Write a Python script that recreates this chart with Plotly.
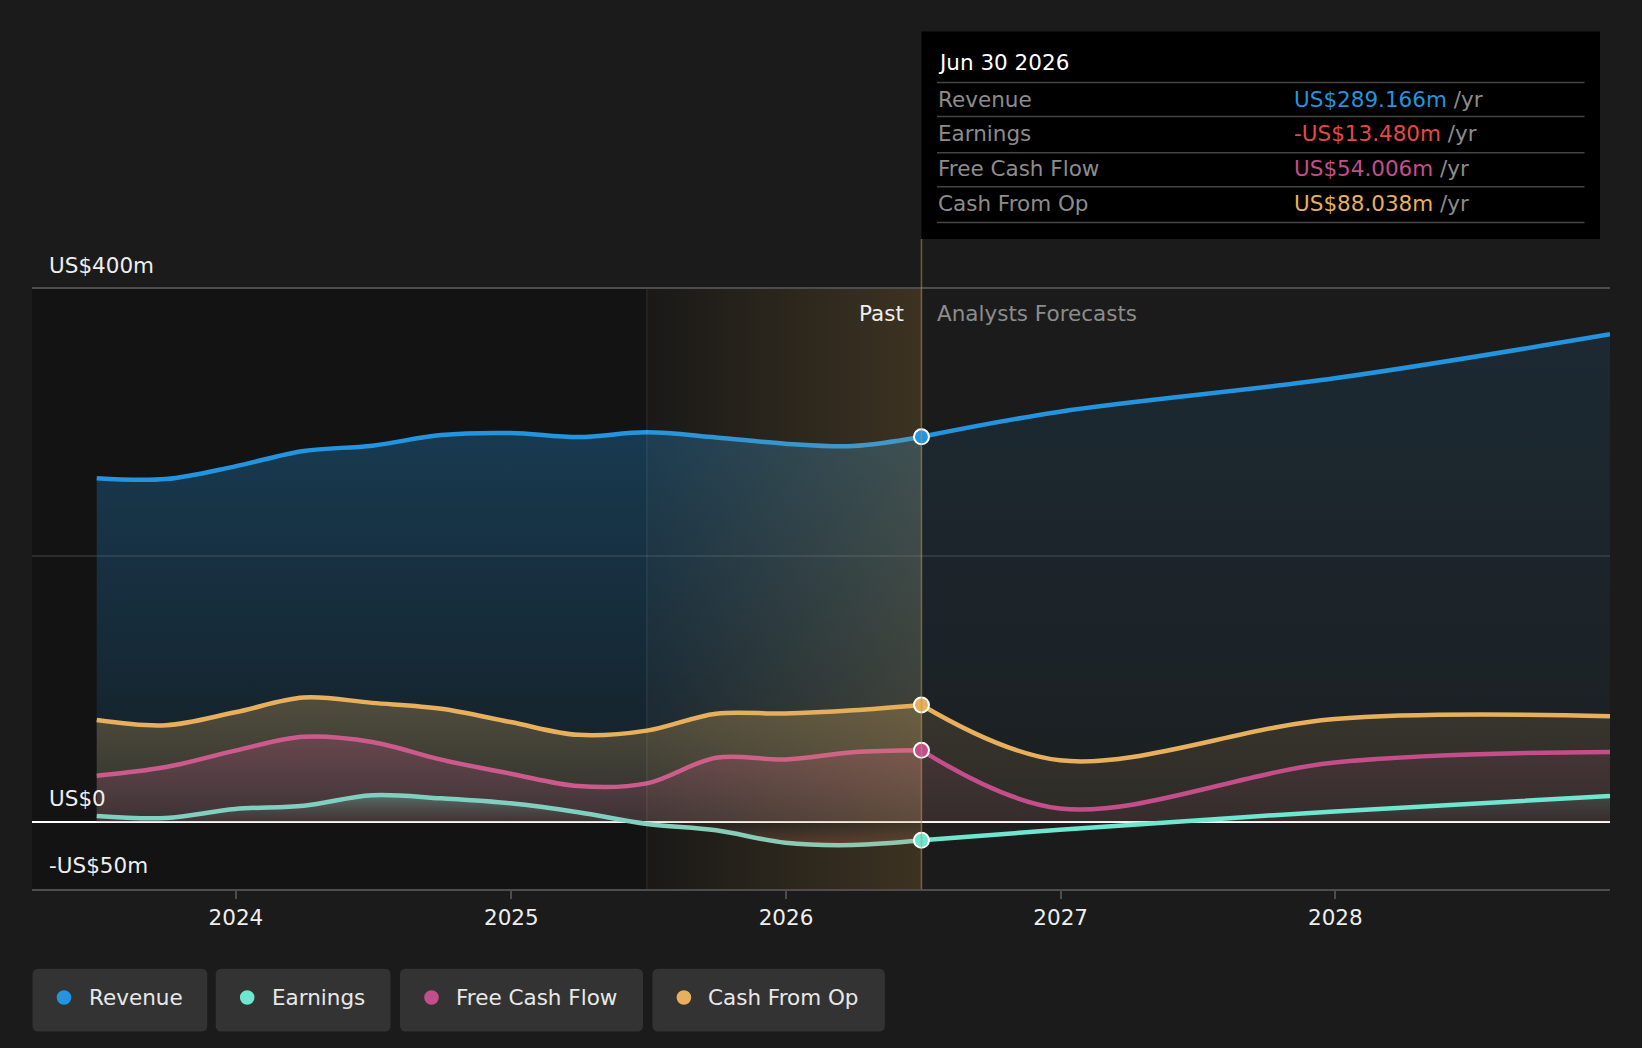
import plotly.graph_objects as go

# ---------------- data ----------------
past_dates = ["2023-06-30", "2023-09-30", "2023-12-31", "2024-03-31", "2024-06-30",
              "2024-09-30", "2024-12-31", "2025-03-31", "2025-06-30", "2025-09-30",
              "2025-12-31", "2026-03-31", "2026-06-30"]
fc_dates = ["2026-06-30", "2026-12-31", "2027-12-31", "2028-12-31"]

rev_past = [258.0, 257.5, 267.0, 278.5, 282.5, 290.5, 292.0, 289.0, 292.5, 288.6, 284.0, 282.2, 289.166]
rev_fc = [289.166, 308.0, 333.0, 366.0]
cfo_past = [76.7, 72.8, 82.5, 93.6, 89.6, 85.2, 75.2, 65.6, 68.8, 81.5, 81.6, 84.0, 88.038]
cfo_fc = [88.038, 46.5, 77.5, 79.5]
fcf_past = [35.0, 41.5, 53.8, 64.2, 60.3, 47.0, 36.5, 27.2, 29.2, 48.5, 47.2, 52.6, 54.006]
fcf_fc = [54.006, 10.4, 44.8, 52.8]
earn_past = [4.8, 3.3, 10.0, 12.5, 20.4, 18.0, 14.3, 7.6, -1.2, -6.0, -15.3, -17.0, -13.48]
earn_fc = [-13.48, -5.5, 8.2, 19.8]

series_names = ["Revenue", "Earnings", "Free Cash Flow", "Cash From Op"]
tooltip_date = "Jun 30 2026"
tooltip_values = ["US$289.166m", "-US$13.480m", "US$54.006m", "US$88.038m"]
y_labels = {400: "US$400m", 0: "US$0", -50: "-US$50m"}
x_range = ["2023-04-05", "2028-12-31"]
y_range = [-50, 400]

# ---------------- style ----------------
C_REV = (35, 148, 223)
C_EARN = (110, 231, 208)
C_FCF = (196, 78, 138)
C_CFO = (232, 176, 92)
C_RED = (230, 72, 72)

def rgba(c, a=1.0):
    return f"rgba({c[0]},{c[1]},{c[2]},{a})"

W, H = 1642, 1048
L, R, T, B = 32, 32, 289, 159
# pixel geometry of the plot area
TX0, TX1 = L, W - R
TY0, TY1 = T, H - B

def px(x):
    return (x - TX0) / (TX1 - TX0)

def py(y):
    return (TY1 - y) / (TY1 - TY0)

FONT = "DejaVu Sans"
FS = 21.5

fig = go.Figure()

def fill_trace(x, y, c, a_lo, a_hi, start=0, stop=None, scale=None):
    if scale is None:
        scale = [[0, rgba(c, a_lo)], [1, rgba(c, a_hi)]]
    return go.Scatter(
        x=x, y=y, mode="lines",
        line=dict(width=0, shape="spline", smoothing=1, color=rgba(c, 0)),
        fill="tozeroy",
        fillgradient=dict(type="vertical", colorscale=scale, start=start,
                          stop=stop if stop is not None else max(y)),
        hoverinfo="skip", showlegend=False)

def line_trace(x, y, c):
    return go.Scatter(
        x=x, y=y, mode="lines",
        line=dict(width=4.5, shape="spline", smoothing=1, color=rgba(c)),
        hoverinfo="skip", showlegend=False)

earn_scale_past = [[0, rgba(C_RED, 0.35)], [0.5, rgba((120, 120, 120), 0.03)], [1, rgba(C_EARN, 0.3)]]
earn_scale_fc = [[0, rgba(C_RED, 0.12)], [0.5, rgba((120, 120, 120), 0.02)], [1, rgba(C_EARN, 0.14)]]

# fills (past)
fig.add_trace(fill_trace(past_dates, rev_past, C_REV, 0.08, 0.30, 0, 292))
fig.add_trace(fill_trace(past_dates, cfo_past, C_CFO, 0.12, 0.28, 0, 92))
fig.add_trace(fill_trace(past_dates, fcf_past, C_FCF, 0.10, 0.26, 0, 64))
fig.add_trace(fill_trace(past_dates, earn_past, C_EARN, 0, 0, -20, 20, earn_scale_past))
# fills (forecast)
fig.add_trace(fill_trace(fc_dates, rev_fc, C_REV, 0.03, 0.12, 0, 366))
fig.add_trace(fill_trace(fc_dates, cfo_fc, C_CFO, 0.08, 0.14, 0, 88))
fig.add_trace(fill_trace(fc_dates, fcf_fc, C_FCF, 0.06, 0.12, 0, 54))
fig.add_trace(fill_trace(fc_dates, earn_fc, C_EARN, 0, 0, -20, 20, earn_scale_fc))

# lines
fig.add_trace(line_trace(past_dates, rev_past, C_REV))
fig.add_trace(line_trace(past_dates, cfo_past, C_CFO))
fig.add_trace(line_trace(past_dates, fcf_past, (205, 90, 140)))
fig.add_trace(line_trace(past_dates, earn_past, (128, 208, 192)))
fig.add_trace(line_trace(fc_dates, rev_fc, C_REV))
fig.add_trace(line_trace(fc_dates, cfo_fc, C_CFO))
fig.add_trace(line_trace(fc_dates, fcf_fc, C_FCF))
fig.add_trace(line_trace(fc_dates, earn_fc, C_EARN))

# last-twelve-months highlight overlay
hl0, hl1 = past_dates[-5], past_dates[-1]
fig.add_trace(go.Scatter(
    x=[hl0, hl1, hl1, hl0, hl0], y=[y_range[0], y_range[0], y_range[1], y_range[1], y_range[0]],
    mode="lines", line=dict(width=0, color="rgba(0,0,0,0)"), fill="toself",
    fillgradient=dict(type="horizontal",
                      colorscale=[[0, "rgba(215,165,80,0.02)"], [1, "rgba(215,165,80,0.20)"]]),
    hoverinfo="skip", showlegend=False))

# end-of-past markers
fig.add_trace(go.Scatter(
    x=[past_dates[-1]] * 4,
    y=[rev_past[-1], earn_past[-1], fcf_past[-1], cfo_past[-1]],
    mode="markers",
    marker=dict(size=15, color=[rgba(C_REV), rgba(C_EARN), rgba(C_FCF), rgba(C_CFO)],
                line=dict(color="#ffffff", width=2)),
    hoverinfo="skip", showlegend=False))

shapes = []
# darker past background
shapes.append(dict(type="rect", xref="x", yref="y", x0=x_range[0], x1=hl0, y0=y_range[0], y1=y_range[1],
                   fillcolor="#131313", line=dict(width=0), layer="below"))
shapes.append(dict(type="rect", xref="x", yref="y", x0=hl0, x1=hl1, y0=y_range[0], y1=y_range[1],
                   fillcolor="#161616", line=dict(width=0), layer="below"))
# divider lines
shapes.append(dict(type="line", xref="x", yref="paper", x0=hl0, x1=hl0, y0=0, y1=1,
                   line=dict(color="rgba(255,255,255,0.07)", width=1.5)))
shapes.append(dict(type="line", xref="x", yref="paper", x0=hl1, x1=hl1, y0=0, y1=py(239),
                   line=dict(color="rgba(190,150,80,0.55)", width=1.5)))

# tooltip box
shapes.append(dict(type="rect", xref="paper", yref="paper", x0=px(921.5), x1=px(1600),
                   y0=py(239), y1=py(31.5), fillcolor="#000000", line=dict(width=0)))
for sy in [82.5, 116.5, 152.7, 186.7, 222.5]:
    shapes.append(dict(type="line", xref="paper", yref="paper", x0=px(937), x1=px(1584.5),
                       y0=py(sy), y1=py(sy), line=dict(color="#454545", width=1.5)))

# legend boxes
def rrect(x0, y0, x1, y1, r):
    X = lambda v: px(v)
    Y = lambda v: py(v)
    return (f"M {X(x0 + r)},{Y(y0)} L {X(x1 - r)},{Y(y0)} Q {X(x1)},{Y(y0)} {X(x1)},{Y(y0 + r)} "
            f"L {X(x1)},{Y(y1 - r)} Q {X(x1)},{Y(y1)} {X(x1 - r)},{Y(y1)} "
            f"L {X(x0 + r)},{Y(y1)} Q {X(x0)},{Y(y1)} {X(x0)},{Y(y1 - r)} "
            f"L {X(x0)},{Y(y0 + r)} Q {X(x0)},{Y(y0)} {X(x0 + r)},{Y(y0)} Z")

legend_boxes = [(32.5, 207.3), (215.7, 390.6), (400.0, 643.0), (652.4, 884.9)]
legend_colors = [C_REV, C_EARN, C_FCF, C_CFO]
annotations = []
for (bx0, bx1), name, col in zip(legend_boxes, series_names, legend_colors):
    shapes.append(dict(type="path", xref="paper", yref="paper", path=rrect(bx0, 968.7, bx1, 1031.5, 6),
                       fillcolor="#333333", line=dict(width=0)))
    cx, cy, rr = bx0 + 31.5, 997.5, 7.3
    shapes.append(dict(type="circle", xref="paper", yref="paper", x0=px(cx - rr), x1=px(cx + rr),
                       y0=py(cy + rr), y1=py(cy - rr), fillcolor=rgba(col), line=dict(width=0)))
    annotations.append(dict(xref="paper", yref="paper", x=px(bx0 + 54), y=py(cy), xanchor="left",
                            yanchor="middle", text=name, showarrow=False,
                            font=dict(family=FONT, size=FS, color="#e8e8e8")))

# y labels
for val, txt in y_labels.items():
    annotations.append(dict(xref="paper", yref="y", x=px(47), y=val, xanchor="left", yanchor="middle",
                            yshift=23.5, text=txt, showarrow=False,
                            font=dict(family=FONT, size=FS, color="#eeeeee")))

# past / forecast labels
annotations.append(dict(xref="x", yref="paper", x=hl1, y=py(313), xanchor="right", yanchor="middle",
                        xshift=-15, text="Past", showarrow=False,
                        font=dict(family=FONT, size=FS, color="#eeeeee")))
annotations.append(dict(xref="x", yref="paper", x=hl1, y=py(313), xanchor="left", yanchor="middle",
                        xshift=14, text="Analysts Forecasts", showarrow=False,
                        font=dict(family=FONT, size=FS, color="#8c8c8c")))

# tooltip text
annotations.append(dict(xref="paper", yref="paper", x=px(936), y=py(62.5), xanchor="left", yanchor="middle",
                        text=tooltip_date, showarrow=False, font=dict(family=FONT, size=FS, color="#ffffff")))
tip_colors = [rgba(C_REV), rgba(C_RED), rgba(C_FCF), rgba(C_CFO)]
tip_rows = [99, 133, 168.5, 203]
for name, val, col, ty in zip(series_names, tooltip_values, tip_colors, tip_rows):
    annotations.append(dict(xref="paper", yref="paper", x=px(936), y=py(ty), xanchor="left",
                            yanchor="middle", text=name, showarrow=False,
                            font=dict(family=FONT, size=FS, color="#8c8c8c")))
    annotations.append(dict(xref="paper", yref="paper", x=px(1292), y=py(ty), xanchor="left",
                            yanchor="middle", text=f"<span style='color:{col}'>{val}</span> /yr",
                            showarrow=False, font=dict(family=FONT, size=FS, color="#8c8c8c")))

fig.update_layout(
    width=W, height=H, autosize=False,
    margin=dict(l=L, r=R, t=T, b=B, pad=0),
    paper_bgcolor="#1b1b1b", plot_bgcolor="#1b1b1b",
    font=dict(family=FONT, size=FS, color="#e6e6e6"),
    showlegend=False, shapes=shapes, annotations=annotations,
    xaxis=dict(type="date", range=x_range, showgrid=False, zeroline=False,
               showline=True, linecolor="#4d4d4d", linewidth=2, mirror=True,
               ticks="outside", ticklen=8, tickwidth=2, tickcolor="#4d4d4d",
               dtick="M12", tick0="2024-01-01", tickformat="%Y",
               tickfont=dict(family=FONT, size=FS, color="#eeeeee")),
    yaxis=dict(range=y_range, tickvals=[200], showticklabels=False, ticks="",
               showgrid=True, gridcolor="rgba(255,255,255,0.10)", gridwidth=1.5,
               zeroline=True, zerolinecolor="#ffffff", zerolinewidth=1.5, showline=False),
)

fig.write_html("out.html", config={"displayModeBar": False},
               post_script="document.body.style.margin='0';document.body.style.overflow='hidden';")
